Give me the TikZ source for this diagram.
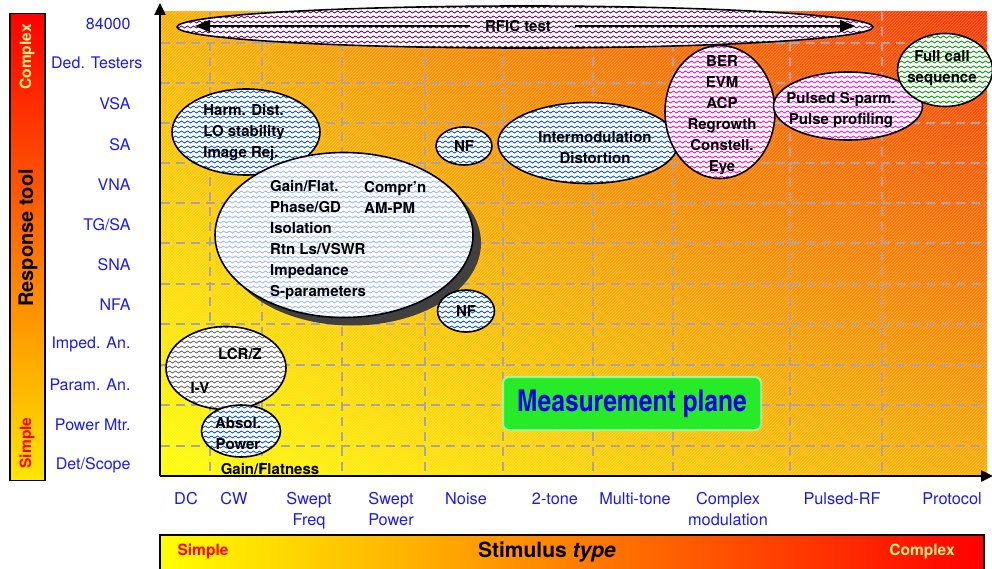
\documentclass[tikz,border=0pt]{standalone}
\usepackage{fontspec}
\setmainfont{TeX Gyre Heros}
\newfontfamily\cnfont{texgyreheroscn}[Extension=.otf, UprightFont=*-regular, BoldFont=*-bold, ItalicFont=*-italic, BoldItalicFont=*-bolditalic]
\usepackage{tikz}
\usetikzlibrary{arrows.meta,shapes.geometric,shadings,patterns,patterns.meta}

\definecolor{toolblue}{RGB}{25,25,245}
\definecolor{bgtl}{RGB}{255,175,0}
\definecolor{bgtr}{RGB}{255,50,0}
\definecolor{bgbl}{RGB}{255,255,0}
\definecolor{bgbr}{RGB}{255,170,0}
\definecolor{barlight}{RGB}{255,240,140}
\definecolor{barbot}{RGB}{255,230,0}
\definecolor{measgreen}{RGB}{40,235,40}
\newcommand{\clrrfic}{violet!80!black}
\newcommand{\clrblue}{blue!60!cyan!80!black}
\newcommand{\clrlight}{cyan!30!blue!40}
\newcommand{\clrpink}{magenta!80!red}
\newcommand{\clrpulse}{magenta}
\newcommand{\clrgreen}{green!60!black}
\newcommand{\clrgrey}{black!60}

\tikzdeclarepattern{
  name=wavy,
  type=uncolored,
  bounding box={(-1pt,-1pt) and (7pt,6pt)},
  tile size={(6pt,5pt)},
  code={
    \draw[line width=0.8pt] (0pt,2pt) sin (1.5pt,3pt) cos (3pt,2pt) sin (4.5pt,1pt) cos (6pt,2pt);
  }
}

\begin{document}
\begin{tikzpicture}[x=1pt,y=-1pt,
    toollab/.style={text=toolblue, font=\fontsize{16}{19}\selectfont, anchor=east},
    stimlab/.style={text=toolblue, font=\fontsize{16.3}{21}\selectfont, align=center, anchor=north},
    meas/.style={ellipse, draw=black, line width=1.6pt, preaction={fill=white}, pattern=wavy, inner sep=0pt},
    mtext/.style={font=\bfseries\fontsize{15}{21}\selectfont, align=center, inner sep=0pt},
    gridln/.style={black!35, line width=1.8pt, dash pattern=on 9pt off 6pt},
    axis/.style={line width=2.4pt, -{Triangle[width=11pt,length=12pt]}},
    bartxt/.style={font=\bfseries\fontsize{15.5}{16}\selectfont},
  ]
\useasboundingbox (0,0) rectangle (992,569);

% plane background
\node[minimum width=826pt, minimum height=464pt, inner sep=0pt,
  upper left=bgtl, upper right=bgtr, lower left=bgbl, lower right=bgbr] (plane) at (574,244) {};
\fill[pattern=north east lines, pattern color=white, opacity=.3] (plane.north west) rectangle (plane.south east);

% grid
\foreach \y in {446,405,365,324,284,243,203,163,123,83,43}
  \draw[gridln] (161,\y) -- (987,\y);
\foreach \x in {210,262,342,425,503,593,673,790,882}
  \draw[gridln] (\x,12) -- (\x,476);

% axes
\coordinate (origin) at (160,476);
\coordinate (ytop) at (160,3);
\coordinate (xend) at (993,476);
\draw[axis] (origin) -- (ytop);
\draw[axis] (origin) -- (xend);

% response tool bar
\node[draw, line width=1.5pt, minimum width=35pt, minimum height=467pt, inner sep=0pt,
  top color=red, bottom color=barbot] (toolbar) at (27.5,247) {};
\node[bartxt, rotate=90, text=barlight] (barcomplex) at (27,57) {Complex};
\node[rotate=90, font=\bfseries\fontsize{20}{20}\selectfont] (bartool) at (28,238) {Response tool};
\node[bartxt, rotate=90, text=red] (barsimple) at (27,443) {Simple};

% stimulus bar
\node[draw, line width=1.5pt, minimum width=824pt, minimum height=38pt, inner sep=0pt, anchor=north west,
  left color=yellow, middle color=orange!90!yellow, right color=red] (stimbar) at (159,534) {};
\node[bartxt, text=red] (stimsimple) at (203,551) {Simple};
\node[font=\bfseries\fontsize{21}{21}\selectfont] (stimtype) at (547,552) {Stimulus \textit{type}};
\node[bartxt, text=barlight] (stimcomplex) at (922,551) {Complex};

% tool labels
\foreach \lab [count=\i from 0] in {Det/Scope, Power Mtr., Param. An., Imped. An., NFA, SNA, TG/SA, VNA, SA, VSA}
  \node[toollab] (t\i) at (134,{465-40.1*\i}) {\lab};
\node[toollab] (t10) at (146,63) {Ded. Testers};
\node[toollab] (t11) at (134,24) {84000};

% stimulus labels
\foreach \x/\lab [count=\i] in {186/DC, 234/CW, 309/Swept\\Freq, 391/Swept\\Power, 466/Noise, 555/2-tone, 635/Multi-tone, 728/Complex\\modulation, 842/Pulsed-RF, 952/Protocol}
  \node[stimlab] (s\i) at (\x,489) {\lab};

% measurements
\node[meas, pattern color=\clrrfic, minimum width=696pt, minimum height=42pt] (rfic) at (525,27) {};
\node[mtext] (rfictxt) at (518,26) {RFIC test};
\coordinate (rficla) at (470,26);
\coordinate (rficlb) at (195,26);
\coordinate (rficra) at (575,26);
\coordinate (rficrb) at (855,26);
\draw[line width=1.8pt, -{Triangle[width=12pt,length=15pt]}] (rficla) -- (rficlb);
\draw[line width=1.8pt, -{Triangle[width=12pt,length=15pt]}] (rficra) -- (rficrb);

\node[meas, pattern color=\clrblue, minimum width=148pt, minimum height=86pt] (harm) at (246,132) {};
\node[mtext, align=left] (harmtxt) at (244,133) {Harm. Dist.\\LO stability\\Image Rej.};

\node[ellipse, fill=black!75, minimum width=258pt, minimum height=165pt] (bigshadow) at (352,243) {};
\node[meas, pattern color=\clrlight, minimum width=258pt, minimum height=165pt] (big) at (344,235) {};
\node[mtext, align=left, anchor=west] (bigtxt) at (270,240) {Gain/Flat.\\Phase/GD\\Isolation\\Rtn Ls/VSWR\\Impedance\\S-parameters};
\node[mtext, align=left, anchor=west] (bigtxtb) at (364,197.5) {Compr'n\\AM-PM};

\node[meas, pattern color=\clrblue, minimum width=56pt, minimum height=38pt] (nfa) at (464,146) {};
\node[mtext] (nfatxt) at (nfa.center) {NF};
\node[meas, pattern color=\clrblue, minimum width=57pt, minimum height=42pt] (nfb) at (466,311) {};
\node[mtext] (nfbtxt) at (nfb.center) {NF};

\node[meas, pattern color=\clrblue, minimum width=180pt, minimum height=81pt] (imd) at (588,143) {};
\node[mtext] (imdtxt) at (595,147) {Intermodulation\\Distortion};

\node[meas, pattern color=\clrpink, minimum width=110pt, minimum height=133pt] (ber) at (720,112) {};
\node[mtext] (bertxt) at (722,115) {BER\\EVM\\ACP\\Regrowth\\Constell.\\Eye};

\node[meas, pattern color=\clrpulse, minimum width=149pt, minimum height=68pt] (pulse) at (848,106) {};
\node[mtext] (pulsetxt) at (841,110.5) {Pulsed S-parm.\\Pulse profiling};

\node[meas, pattern color=\clrgreen, minimum width=95pt, minimum height=73pt] (call) at (945,70) {};
\node[mtext] (calltxt) at (942,68.5) {Full call\\sequence};

\node[meas, pattern color=\clrgrey, minimum width=120pt, minimum height=83pt] (lcr) at (226,368) {};
\node[mtext] (lcrtxt) at (240,354) {LCR/Z};
\node[mtext] (ivtxt) at (200,388) {I-V};

\node[meas, pattern color=\clrblue, minimum width=79pt, minimum height=52pt] (absol) at (241,431) {};
\node[mtext] (absoltxt) at (238,433.5) {Absol.\\Power};
\node[mtext] (gaintxt) at (270,469) {Gain/Flatness};

\node[draw=green!40!white, line width=2pt, fill=measgreen, rounded corners=6pt, minimum width=258pt, minimum height=53pt,
  text=blue!90!black, font=\cnfont\bfseries\fontsize{30}{30}\selectfont] (mplane) at (632,403.5) {Measurement plane};

\end{tikzpicture}
\end{document}
